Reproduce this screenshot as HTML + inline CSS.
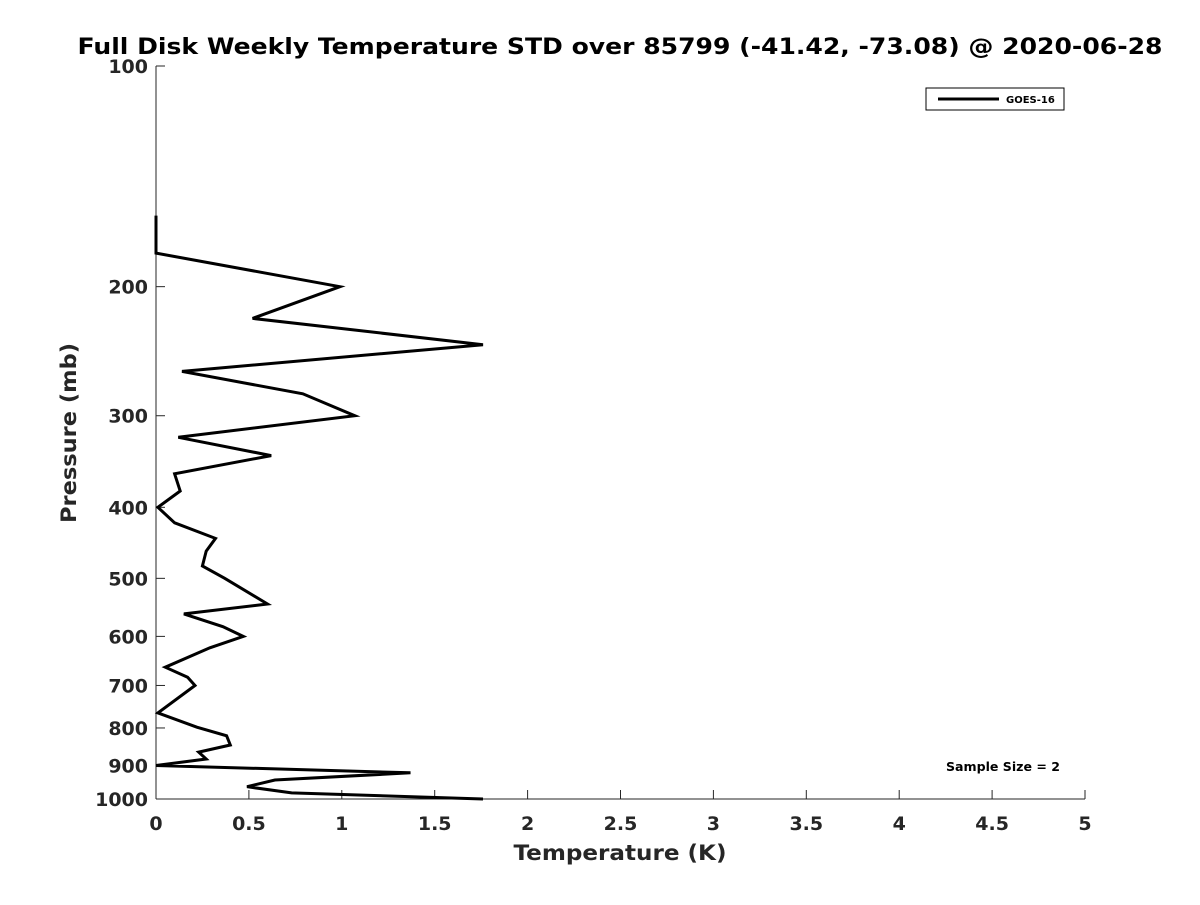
<!DOCTYPE html>
<html><head><meta charset="utf-8"><style>
body{margin:0;background:#fff;}
svg text{font-family:"DejaVu Sans","Liberation Sans",sans-serif;font-weight:bold;fill:#262626;}
</style></head><body>
<svg id="c" width="1200" height="900" xmlns="http://www.w3.org/2000/svg">
<rect width="1200" height="900" fill="#fff"/>
<text x="620" y="54" font-size="22" text-anchor="middle" textLength="1085" lengthAdjust="spacingAndGlyphs" style="fill:#000">Full Disk Weekly Temperature STD over 85799 (-41.42, -73.08) @ 2020-06-28</text>
<g id="axes"></g>
<text x="620" y="860" font-size="21" text-anchor="middle" textLength="213" lengthAdjust="spacingAndGlyphs">Temperature (K)</text>
<text x="0" y="0" font-size="21" text-anchor="middle" textLength="180" lengthAdjust="spacingAndGlyphs" transform="translate(76,433) rotate(-90)">Pressure (mb)</text>
<g>
<rect x="926" y="88" width="138" height="22" fill="#fff" stroke="#000" stroke-width="1"/>
<line x1="938" y1="99" x2="999" y2="99" stroke="#000" stroke-width="3"/>
<text x="1006" y="103" font-size="10" style="fill:#000">GOES-16</text>
</g>
<text x="946" y="771" font-size="12" textLength="114" lengthAdjust="spacingAndGlyphs" style="fill:#000">Sample Size = 2</text>
</svg>
<script>
const xTicks=[0,0.5,1,1.5,2,2.5,3,3.5,4,4.5,5];
const yTicks=[100,200,300,400,500,600,700,800,900,1000];
const pressures=[160,180,200,221,240,261,280,300,321,340,360,380,400,420,441,459,481,500,542,559,582,600,622,661,682,700,763,798,820,844,863,882,900,921,942,962,981,1000];
const stdValues=[0,0,0.99,0.52,1.76,0.14,0.79,1.07,0.12,0.62,0.10,0.13,0.01,0.10,0.32,0.27,0.25,0.37,0.60,0.15,0.36,0.47,0.29,0.05,0.17,0.21,0.01,0.22,0.38,0.40,0.23,0.27,0,1.37,0.64,0.49,0.73,1.76];
const X0=156,X1=1085,Y0=66,Y1=799;
const xs=v=>X0+(v/5)*(X1-X0);
const ys=p=>Y0+(Math.log10(p)-2)*(Y1-Y0);
const NS="http://www.w3.org/2000/svg";
const g=document.getElementById('axes');
function mk(t,a){const e=document.createElementNS(NS,t);for(const k in a)e.setAttribute(k,a[k]);return e;}
let ax=mk('line',{x1:X0,y1:Y1,x2:X1,y2:Y1,stroke:'#262626','stroke-width':1});


g.appendChild(ax);
let ay=mk('line',{x1:X0,y1:Y0,x2:X0,y2:Y1,stroke:'#262626','stroke-width':1});


g.appendChild(ay);
xTicks.forEach(v=>{const x=xs(v);
g.appendChild(mk('line',{x1:x,y1:Y1,x2:x,y2:Y1-9,stroke:'#262626'}));
const t=mk('text',{x:x,y:Y1+31,'font-size':19,'text-anchor':'middle'});t.textContent=v;


g.appendChild(t);});
yTicks.forEach(p=>{const y=ys(p);
g.appendChild(mk('line',{x1:X0,y1:y,x2:X0+9,y2:y,stroke:'#262626'}));
const t=mk('text',{x:X0-8,y:y+7,'font-size':19,'text-anchor':'end'});t.textContent=p;


g.appendChild(t);});
const pts=pressures.map((p,i)=>xs(stdValues[i]).toFixed(1)+','+ys(p).toFixed(1)).join(' ');
const line=mk('polyline',{points:pts,fill:'none',stroke:'#000','stroke-width':3,'stroke-linejoin':'miter'});


g.appendChild(line);
</script>
</body></html>
